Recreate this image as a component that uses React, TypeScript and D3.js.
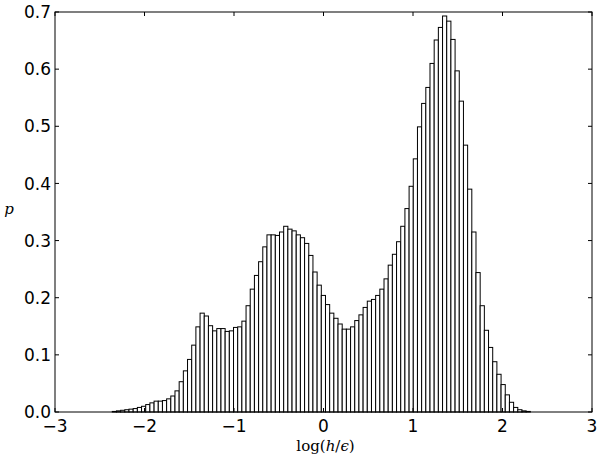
import React from "react";
import * as d3 from "d3";

const binStart = -2.36;
const binWidth = 0.04671;
const counts = [
  0.001, 0.002, 0.003, 0.004, 0.005, 0.006, 0.008, 0.010, 0.013, 0.016,
  0.019, 0.019, 0.020, 0.023, 0.028, 0.037, 0.053, 0.072, 0.092, 0.117,
  0.149, 0.173, 0.168, 0.151, 0.142, 0.146, 0.146, 0.141, 0.142, 0.148,
  0.149, 0.159, 0.186, 0.215, 0.239, 0.263, 0.289, 0.310, 0.310, 0.309,
  0.315, 0.325, 0.320, 0.317, 0.310, 0.305, 0.295, 0.274, 0.245, 0.222,
  0.204, 0.188, 0.173, 0.164, 0.154, 0.145, 0.145, 0.149, 0.160, 0.170,
  0.183, 0.194, 0.197, 0.204, 0.215, 0.233, 0.257, 0.276, 0.298, 0.325,
  0.356, 0.395, 0.443, 0.499, 0.540, 0.568, 0.610, 0.651, 0.673, 0.693,
  0.684, 0.652, 0.597, 0.544, 0.467, 0.390, 0.315, 0.244, 0.186, 0.143,
  0.113, 0.088, 0.066, 0.048, 0.030, 0.017, 0.008, 0.004, 0.002, 0.001,
];
const xTicks = [-3, -2, -1, 0, 1, 2, 3];
const yTicks = [0, 0.1, 0.2, 0.3, 0.4, 0.5, 0.6, 0.7];

const W = 600;
const H = 459;
const L = 55, R = 592, T = 12, B = 412;

export default function App() {
  const x = d3.scaleLinear().domain([-3, 3]).range([L, R]);
  const y = d3.scaleLinear().domain([0, 0.7]).range([B, T]);
  const fmtY = d3.format(".1f");
  const fmtX = (v: number) => (v < 0 ? "\u2212" + Math.abs(v) : String(v));
  const tl = 4;
  return (
    <svg
      width={W}
      height={H}
      style={{ position: "absolute", left: 0, top: 0, background: "#fff" }}
      fontFamily="DejaVu Sans"
    >
      <rect x={0} y={0} width={W} height={H} fill="#fff" />
      {counts.map((c, i) => {
        const x0 = x(binStart + i * binWidth);
        const x1 = x(binStart + (i + 1) * binWidth);
        return (
          <rect
            key={i}
            x={x0}
            y={y(c)}
            width={x1 - x0}
            height={B - y(c)}
            fill="#fff"
            stroke="#000"
            strokeWidth={1}
          />
        );
      })}
      <rect x={L} y={T} width={R - L} height={B - T} fill="none" stroke="#000" strokeWidth={1} />
      {xTicks.map((t) => (
        <g key={"x" + t}>
          <line x1={x(t)} x2={x(t)} y1={B} y2={B - tl} stroke="#000" />
          <line x1={x(t)} x2={x(t)} y1={T} y2={T + tl} stroke="#000" />
          <text x={x(t)} y={432} fontSize={17} textAnchor="middle">
            {fmtX(t)}
          </text>
        </g>
      ))}
      {yTicks.map((t) => (
        <g key={"y" + t}>
          <line x1={L} x2={L + tl} y1={y(t)} y2={y(t)} stroke="#000" />
          <line x1={R} x2={R - tl} y1={y(t)} y2={y(t)} stroke="#000" />
          <text x={51} y={y(t)} dy="0.36em" fontSize={17} textAnchor="end">
            {fmtY(t)}
          </text>
        </g>
      ))}
      <text x={x(0) + 2} y={451} fontSize={15} textAnchor="middle" fontFamily="DejaVu Serif">
        log(<tspan fontStyle="italic">h</tspan>/<tspan fontStyle="italic">ϵ</tspan>)
      </text>
      <text
        x={9}
        y={214}
        fontSize={15}
        textAnchor="middle"
        fontFamily="DejaVu Serif"
        fontStyle="italic"
      >
        p
      </text>
    </svg>
  );
}
